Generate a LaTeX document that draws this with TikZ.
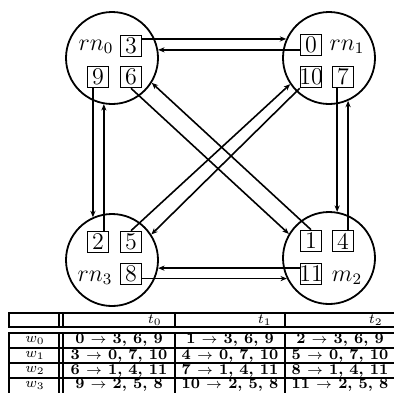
\documentclass[tikz,border=0pt]{standalone}
\usepackage{tikz}
\usetikzlibrary{arrows.meta}

\begin{document}
\begin{tikzpicture}[
    x=0.5pt, y=-0.5pt,
    site/.style={draw, circle, line width=0.9pt, minimum size=46pt, inner sep=0pt},
    slot/.style={draw, line width=0.8pt, minimum size=10.5pt, inner sep=0pt,
                 font=\fontsize{12}{12}\selectfont},
    wideslot/.style={slot, inner xsep=-0.75pt},
    sitelabel/.style={inner sep=0pt, font=\fontsize{12}{12}\selectfont},
    arr/.style={-{Stealth[length=3.2pt, width=2.6pt]}, line width=0.8pt},
    cell/.style={inner sep=0pt, font=\bfseries\fontsize{7.5}{8}\selectfont},
    tabline/.style={line width=0.9pt},
  ]
    \path[use as bounding box] (0,0) rectangle (394,392);

    % the four sites
    \node[site] (rn0) at (112,58)  {};
    \node[site] (rn1) at (329,58)  {};
    \node[site] (rn3) at (112,260) {};
    \node[site] (rn2) at (329,258) {};

    \node[sitelabel] (l0) at (96,47)   {$rn_0$};
    \node[sitelabel] (l1) at (347,47)  {$rn_1$};
    \node[sitelabel] (l3) at (95,278)  {$rn_3$};
    \node[sitelabel] (l2) at (347,278) {$m_2$};

    \node[slot] (b3)  at (131,46)  {3};
    \node[slot] (b9)  at (98,77)   {9};
    \node[slot] (b6)  at (131,77)  {6};
    \node[slot] (b0)  at (311,45)  {0};
    \node[wideslot] (b10) at (311,77)  {10};
    \node[slot] (b7)  at (343,77)  {7};
    \node[slot] (b2)  at (98,242)  {2};
    \node[slot] (b5)  at (131,242) {5};
    \node[slot] (b8)  at (131,274) {8};
    \node[slot] (b1)  at (311,241) {1};
    \node[slot] (b4)  at (343,241) {4};
    \node[wideslot] (b11) at (311,274) {11};

    % straight links
    \draw[arr] (b3.east |- rn1.156)   -- (rn1.156);
    \draw[arr] (b0.west |- rn0.10)    -- (rn0.10);
    \draw[arr] (b9.south -| rn3.114)  -- (rn3.114);
    \draw[arr] (b2.north -| rn0.260)  -- (rn0.260);
    \draw[arr] (b7.south -| rn2.80)   -- (rn2.80);
    \draw[arr] (b4.north -| rn1.294)  -- (rn1.294);
    \draw[arr] (b8.east |- rn2.206)   -- (rn2.206);
    \draw[arr] (b11.west |- rn3.350)  -- (rn3.350);

    % crossing links
    \draw[arr] (b6.south)       -- (rn2.149);
    \draw[arr] (b1.north)       -- (rn0.328);
    \draw[arr] (b10.south west) -- (rn3.33);
    \draw[arr] (b5.north)       -- (rn1.214);

    % table
    \begin{scope}
      \clip (0,0) rectangle (394,392);
      \draw[tabline] (9,313) rectangle (396,327);
      \draw[tabline] (9,333) rectangle (396,396);
      \foreach \c in {59,63,175,285}
        \draw[tabline] (\c,313) -- (\c,327) (\c,333) -- (\c,396);
      \foreach \r in {348,363,378}
        \draw[tabline] (9,\r) -- (396,\r);

      \node[cell, anchor=east] (t0) at (162,320) {$t_0$};
      \node[cell, anchor=east] (t1) at (272,320) {$t_1$};
      \node[cell, anchor=east] (t2) at (383,320) {$t_2$};

      \foreach \i/\ta/\tb/\tc/\dst in {0/0/1/2/{3, 6, 9}, 1/3/4/5/{0, 7, 10},
                                       2/6/7/8/{1, 4, 11}, 3/9/10/11/{2, 5, 8}} {
        \pgfmathsetmacro\ry{340.5+15*\i}
        \node[cell] (w\i) at (35,\ry)  {$w_{\i}$};
        \node[cell] (a\i) at (119,\ry) {\ta{} $\rightarrow$ \dst};
        \node[cell] (b\i) at (230,\ry) {\tb{} $\rightarrow$ \dst};
        \node[cell] (c\i) at (340,\ry) {\tc{} $\rightarrow$ \dst};
      }
    \end{scope}
  \end{tikzpicture}
\end{document}
